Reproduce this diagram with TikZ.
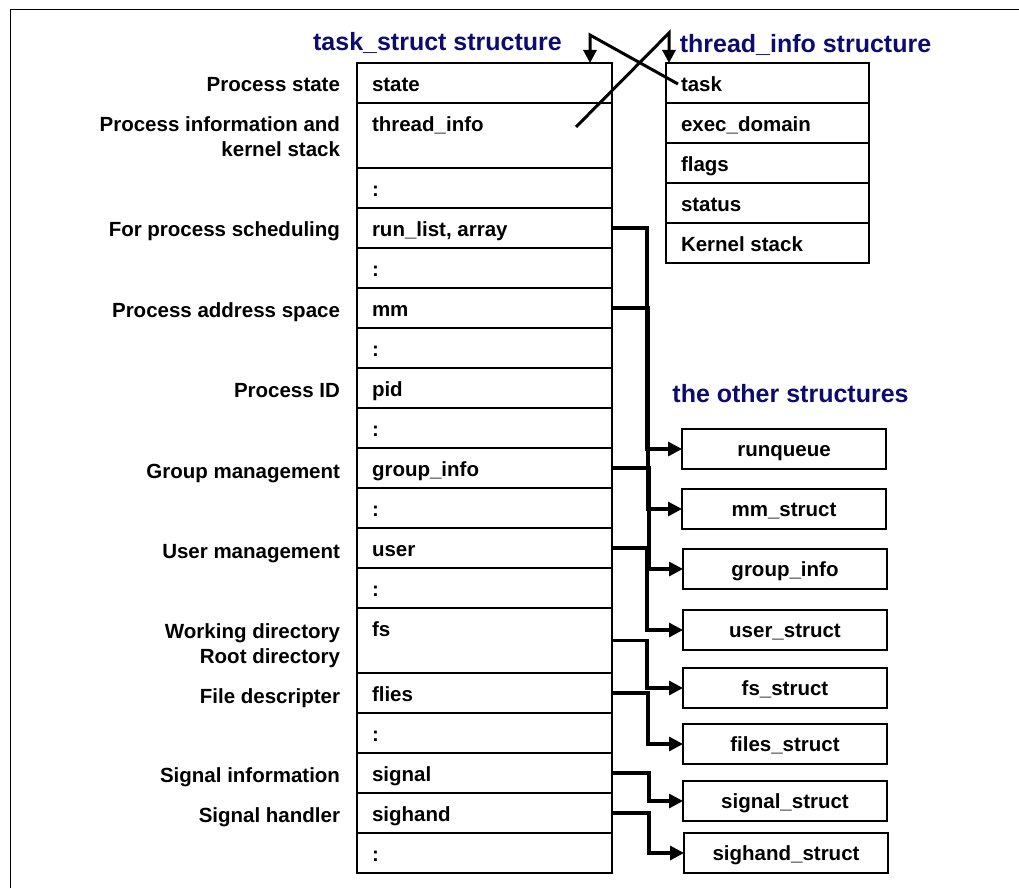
\documentclass[tikz,border=0pt]{standalone}
\usepackage{fontspec}
\setmainfont{Liberation Sans}
\usetikzlibrary{arrows.meta}
\definecolor{navy}{RGB}{12,12,112}
\begin{document}
\begin{tikzpicture}[x=1pt,y=-1pt,
  every node/.style={font=\fontsize{20.5}{25}\selectfont\bfseries, inner sep=0pt, outer sep=0pt},
  cell/.style={draw, line width=1.8pt, minimum width=255pt, anchor=north west},
  tcell/.style={draw, line width=1.8pt, minimum width=203pt, minimum height=40pt, anchor=north west},
  obox/.style={draw, line width=1.4pt, minimum width=204pt, minimum height=40pt, anchor=west, text height=14.7pt, text depth=0pt},
  celltxt/.style={anchor=west, text height=14.7pt, text depth=0pt},
  lbl/.style={anchor=east, text height=14.7pt, text depth=0pt},
  ttl/.style={text=navy, font=\fontsize{25}{30}\selectfont\bfseries, text height=18pt, text depth=0pt},
  conn/.style={line width=3.2pt, -{Triangle[length=14pt,width=14pt]}},
  xconn/.style={line width=3pt, -{Triangle[length=13pt,width=13pt]}}
]
\useasboundingbox (0,0) rectangle (1019,888);
\draw[line width=1.5pt] (10.5,888) -- (10.5,9.5) -- (1019,9.5);

% titles
\node[ttl] (t1) at (437.5,42) {task\_struct structure};
\node[ttl] (t2) at (805.5,44) {thread\_info structure};
\node[ttl] (t3) at (790.5,393) {the other structures};

% task_struct table
\foreach \nm/\tp/\h/\txt in {
  ts1/63/40/state, ts2/103/65/thread\_info, ts3/168/40/:, ts4/208/40/{run\_list, array},
  ts5/248/40/:, ts6/288/40/mm, ts7/328/40/:, ts8/368/40/pid, ts9/408/40/:,
  ts10/448/40/group\_info, ts11/488/40/:, ts12/528/40/user, ts13/568/40/:,
  ts14/608/65/fs, ts15/673/40/flies, ts16/713/40/:, ts17/753/40/signal,
  ts18/793/40/sighand, ts19/833/40/:}
{
  \node[cell, minimum height=\h] (\nm) at (357,\tp) {};
  \node[celltxt] (\nm t) at ([xshift=15pt, yshift=-21pt]\nm.north west) {\txt};
}

% left labels
\node[lbl] (l1) at (340,84) {Process state};
\node[lbl] (l2a) at (340,124) {Process information and};
\node[lbl] (l2b) at (340,149) {kernel stack};
\node[lbl] (l3) at (340,229) {For process scheduling};
\node[lbl] (l4) at (340,310) {Process address space};
\node[lbl] (l5) at (340,390) {Process ID};
\node[lbl] (l6) at (340,471) {Group management};
\node[lbl] (l7) at (340,551) {User management};
\node[lbl] (l8a) at (340,631) {Working directory};
\node[lbl] (l8b) at (340,656) {Root directory};
\node[lbl] (l9) at (340,696) {File descripter};
\node[lbl] (l10) at (340,775) {Signal information};
\node[lbl] (l11) at (340,815) {Signal handler};

% thread_info table
\foreach \nm/\tp/\txt in {ti1/63/task, ti2/103/exec\_domain, ti3/143/flags, ti4/183/status, ti5/223/Kernel stack}
{
  \node[tcell] (\nm) at (666,\tp) {};
  \node[celltxt] (\nm t) at ([xshift=15pt, yshift=-21pt]\nm.north west) {\txt};
}

% other structures
\node[obox] (rq) at (682,449) {runqueue};
\node[obox] (mms) at (682,509) {mm\_struct};
\node[obox] (gi) at (683,569) {group\_info};
\node[obox] (us) at (683,630) {user\_struct};
\node[obox] (fss) at (683,688) {fs\_struct};
\node[obox] (fis) at (683,744) {files\_struct};
\node[obox] (sis) at (683,801) {signal\_struct};
\node[obox] (shs) at (684,853) {sighand\_struct};

% connectors
\draw[conn] (ts4.east) -- ++(35,0) |- (rq.west);
\draw[conn] (ts6.east) -- ++(36,0) |- (mms.west);
\draw[conn] (ts10.east) -- ++(37,0) |- (gi.west);
\draw[conn] (ts12.east) -- ++(35,0) |- (us.west);
\draw[conn] (ts14.east) -- ++(35,0) |- (fss.west);
\draw[conn] (ts15.east) -- ++(36,0) |- (fis.west);
\draw[conn] (ts17.east) -- ++(37,0) |- (sis.west);
\draw[conn] (ts18.east) -- ++(37,0) |- (shs.west);

% crossing pointers
\coordinate (c1) at (590,35);
\coordinate (c2) at (669,33);
\coordinate (tip) at (576,127);
\draw[xconn] ([xshift=-3pt]ti1t.west) -- (c1) -- (c1 |- ts1.north);
\draw[xconn] (tip) -- (c2) -- (c2 |- ti1.north);
\end{tikzpicture}
\end{document}
